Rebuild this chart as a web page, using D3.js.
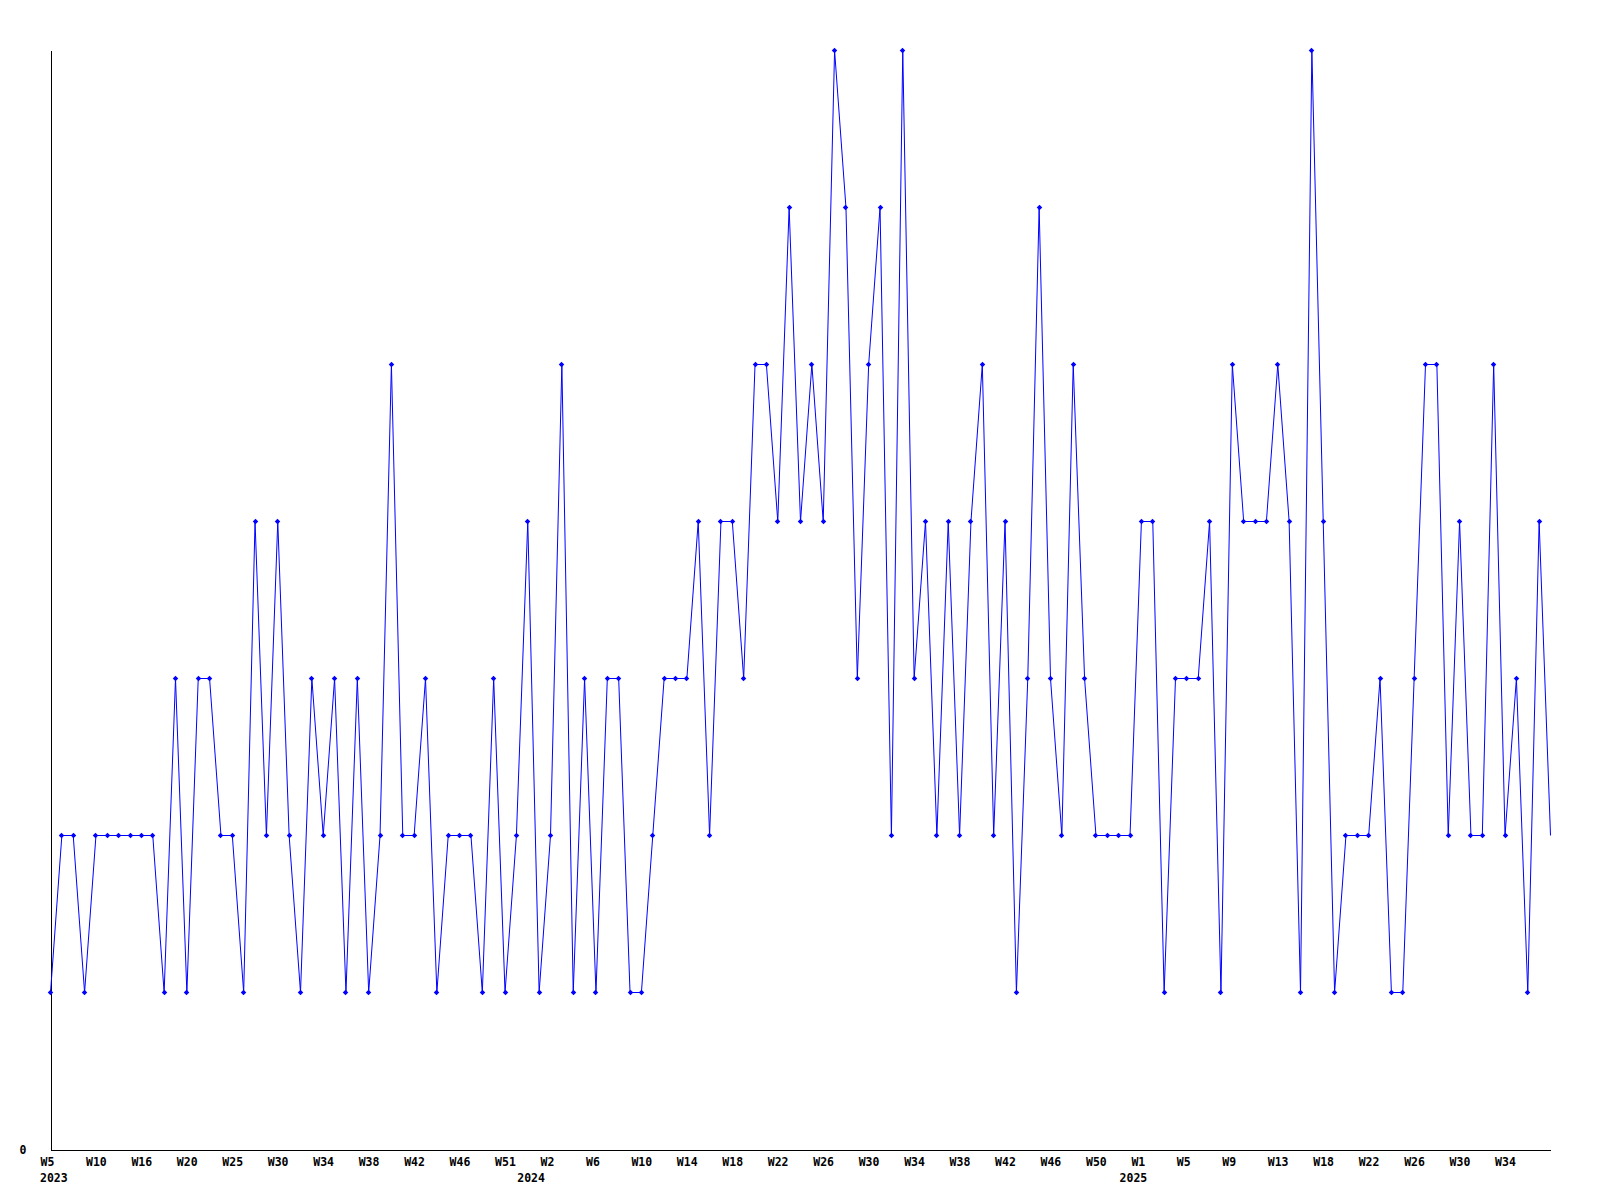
<!DOCTYPE html>
<html>
<head>
<meta charset="utf-8">
<script src="https://cdn.jsdelivr.net/npm/d3@7"></script>
<style>
  body { margin: 0; background: #fff; }
  svg { display: block; }
  .axis text { font-family: "DejaVu Sans Mono", monospace; font-weight: bold; font-size: 11.5px; fill: #000; }
  .axis path { stroke: #000; stroke-width: 1px; shape-rendering: crispEdges; }
  .year { font-family: "DejaVu Sans Mono", monospace; font-weight: bold; font-size: 11.5px; fill: #000; }
  .line { fill: none; stroke: #0000ff; stroke-width: 1px; }
  .marker { fill: #0000ff; }
</style>
</head>
<body>
<svg width="1600" height="1200"></svg>
<script>
// week numbers per year, as they appear in the series (some weeks are absent)
var weeks2023 = [5, 6, 7, 9, 10, 11, 13, 14, 16, 17, 18, 19, 20, 21, 22, 24, 25, 26, 28, 29,
  30, 31, 32, 33, 34, 35, 36, 37, 38, 39, 40, 41, 42, 43, 44, 45, 46, 47, 49, 50, 51, 52];
var weeks2024 = [0, 1, 2, 3, 4, 5, 6, 7, 8, 9, 10, 11, 12, 13, 14, 15, 16, 17, 18, 19, 20,
  21, 22, 23, 24, 25, 26, 27, 28, 29, 30, 31, 32, 33, 34, 35, 36, 37, 38, 39, 40, 41, 42,
  43, 44, 45, 46, 47, 48, 49, 50, 51, 52];
var weeks2025 = [0, 1, 2, 3, 4, 5, 6, 7, 8, 9, 10, 11, 12, 13, 14, 15, 17, 18, 19, 20, 21,
  22, 23, 24, 25, 26, 27, 28, 29, 30, 31, 32, 33, 34, 35, 36, 37, 38];

// weekly counts, one per period above
var counts = [1, 2, 2, 1, 2, 2, 2, 2, 2, 2,
  1, 3, 1, 3, 3, 2, 2, 1, 4, 2,
  4, 2, 1, 3, 2, 3, 1, 3, 1, 2,
  5, 2, 2, 3, 1, 2, 2, 2, 1, 3,
  1, 2, 4, 1, 2, 5, 1, 3, 1, 3,
  3, 1, 1, 2, 3, 3, 3, 4, 2, 4,
  4, 3, 5, 5, 4, 6, 4, 5, 4, 7,
  6, 3, 5, 6, 2, 7, 3, 4, 2, 4,
  2, 4, 5, 2, 4, 1, 3, 6, 3, 2,
  5, 3, 2, 2, 2, 2, 4, 4, 1, 3,
  3, 3, 4, 1, 5, 4, 4, 4, 5, 4,
  1, 7, 4, 1, 2, 2, 2, 3, 1, 1,
  3, 5, 5, 2, 4, 2, 2, 5, 2, 3,
  1, 4, 2];

var yMax = 7;

// build "YYYY-Www" keys
var periods = []
  .concat(weeks2023.map(function(w) { return "2023-W" + w; }))
  .concat(weeks2024.map(function(w) { return "2024-W" + w; }))
  .concat(weeks2025.map(function(w) { return "2025-W" + w; }));

var data = periods.map(function(p, i) {
  return { period: p, year: p.split("-")[0], week: p.split("-")[1], value: counts[i] };
});

var svg = d3.select("svg");

// half-pixel offsets keep 1px lines on pixel centres
var x = d3.scalePoint()
  .domain(periods)
  .range([50.5, 1550.5]);

var y = d3.scaleLinear()
  .domain([0, yMax])
  .range([1149.5, 50.5]);

// x axis: a label every 4th period (not the last, still-open one), left-aligned before the point
var xAxis = d3.axisBottom(x)
  .tickValues(periods.filter(function(d, i) { return i % 4 === 0 && i < periods.length - 1; }))
  .tickFormat(function(d) { return d.split("-")[1]; })
  .tickSize(0)
  .tickSizeOuter(0)
  .tickPadding(0);

var gx = svg.append("g")
  .attr("class", "axis")
  .attr("transform", "translate(0," + y(0) + ")")
  .call(xAxis);

gx.selectAll(".tick text")
  .attr("text-anchor", "start")
  .attr("dx", -10.5)
  .attr("dy", null)
  .attr("y", 16.5);

// year under the first period of each year
var yearStarts = data.filter(function(d, i) { return i === 0 || data[i - 1].year !== d.year; });

svg.append("g")
  .selectAll("text.year")
  .data(yearStarts)
  .enter()
  .append("text")
  .attr("class", "year")
  .attr("x", function(d) { return x(d.period) - 10.5; })
  .attr("y", 1181.5)
  .text(function(d) { return d.year; });

// y axis: only the zero label
var gy = svg.append("g")
  .attr("class", "axis")
  .attr("transform", "translate(" + x.range()[0] + ",0)")
  .call(d3.axisLeft(y)
    .tickValues([0])
    .tickFormat(d3.format("d"))
    .tickSize(0)
    .tickSizeOuter(0)
    .tickPadding(24));

gy.selectAll(".tick text").attr("dy", "0.35em");

// series line
var line = d3.line()
  .x(function(d) { return x(d.period); })
  .y(function(d) { return y(d.value); });

svg.append("path")
  .datum(data)
  .attr("class", "line")
  .attr("d", line);

// small 5px diamond like the original point marks
var diamond = {
  draw: function(context, size) {
    var r = Math.sqrt(size / 2);
    context.moveTo(0, -r);
    context.lineTo(r, 0);
    context.lineTo(0, r);
    context.lineTo(-r, 0);
    context.closePath();
  }
};

var marker = d3.symbol().type(diamond).size(15);

// point markers (the last, still-open week has none)
svg.append("g")
  .selectAll("path.marker")
  .data(data.slice(0, -1))
  .enter()
  .append("path")
  .attr("class", "marker")
  .attr("transform", function(d) {
    return "translate(" + (Math.round(x(d.period) - 0.5) + 0.5) + "," + y(d.value) + ")";
  })
  .attr("d", marker);
</script>
</body>
</html>
